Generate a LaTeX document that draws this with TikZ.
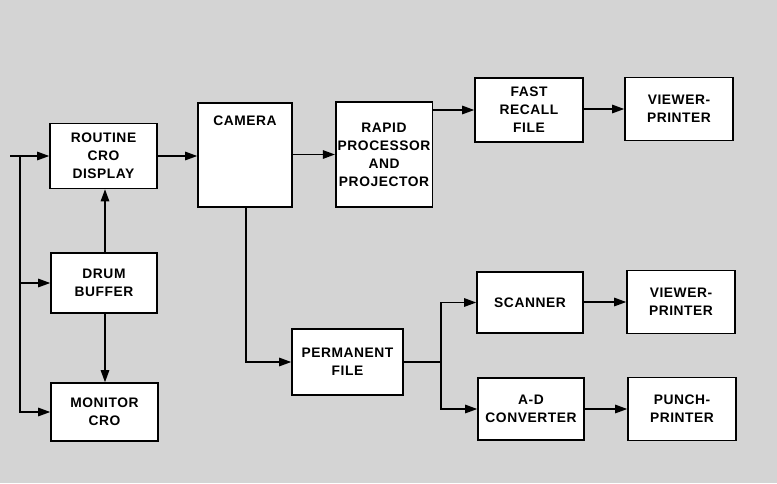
\documentclass[tikz,border=0pt]{standalone}
\usepackage{fontspec}
\setmainfont{Liberation Sans}[LetterSpace=4]
\usetikzlibrary{arrows.meta}
\definecolor{paper}{RGB}{212,212,212}
\tikzset{
  blk/.style={draw=black, line width=1.6pt, fill=white, align=center, inner sep=2pt,
    font=\fontsize{13.8}{18}\selectfont\bfseries},
  con/.style={draw=black, line width=1.3pt},
  arr/.style={con, -{Triangle[length=12pt,width=8.5pt]}},
}
\begin{document}
\begin{tikzpicture}[x=1pt,y=-1pt]
\fill[paper] (0,0) rectangle (777,483);
\useasboundingbox (0,0) rectangle (777,483);
% boxes
\node[blk, minimum width=107, minimum height=65] (routine) at (103.5,156) {ROUTINE\\CRO\\DISPLAY};
\node[blk, minimum width=106, minimum height=60] (drum) at (104,283) {DRUM\\BUFFER};
\node[blk, minimum width=107, minimum height=58] (monitor) at (104.5,412) {MONITOR\\CRO};
\node[blk, minimum width=94, minimum height=104,
  label={[anchor=north, yshift=-10pt, font=\fontsize{13.8}{18}\selectfont\bfseries]north:CAMERA}] (camera) at (245,155) {};
\node[blk, minimum width=96, minimum height=105] (rapid) at (384,154.5) {RAPID\\PROCESSOR\\AND\\PROJECTOR};
\node[blk, minimum width=108, minimum height=64] (fast) at (529,110) {FAST\\RECALL\\FILE};
\node[blk, minimum width=108, minimum height=63] (view1) at (679,109) {VIEWER-\\PRINTER};
\node[blk, minimum width=111, minimum height=66] (perm) at (347.5,362) {PERMANENT\\FILE};
\node[blk, minimum width=106, minimum height=61] (scan) at (530,302.5) {SCANNER};
\node[blk, minimum width=108, minimum height=63] (view2) at (681,302) {VIEWER-\\PRINTER};
\node[blk, minimum width=106, minimum height=62] (ad) at (531,409) {A-D\\CONVERTER};
\node[blk, minimum width=108, minimum height=63] (punch) at (682,409) {PUNCH-\\PRINTER};
% connectors
\coordinate (in) at (10,156);
\coordinate (bus) at (20,156);
\coordinate (split) at (441,362);
\draw[arr] (in) -- (routine.west);
\draw[arr] (bus) |- (drum.west);
\draw[arr] (bus) |- (monitor.west);
\draw[arr] ([xshift=1pt]drum.north) -- ([xshift=1pt]drum.north |- routine.south);
\draw[arr] ([xshift=1pt]drum.south) -- ([xshift=1pt]drum.south |- monitor.north);
\draw[arr] (routine.east) -- (routine.east -| camera.west);
\draw[arr] (camera.east |- rapid.west) -- (rapid.west);
\draw[arr] (rapid.east |- fast.west) -- (fast.west);
\draw[arr] (fast.east |- view1.west) -- (view1.west);
\draw[arr] ([xshift=1pt]camera.south) |- (perm.west);
\draw[con] (perm.east) -- (split);
\draw[arr] (split) |- (scan.west);
\draw[arr] (split) |- (ad.west);
\draw[arr] (scan.east |- view2.west) -- (view2.west);
\draw[arr] (ad.east) -- (ad.east -| punch.west);
\end{tikzpicture}
\end{document}
